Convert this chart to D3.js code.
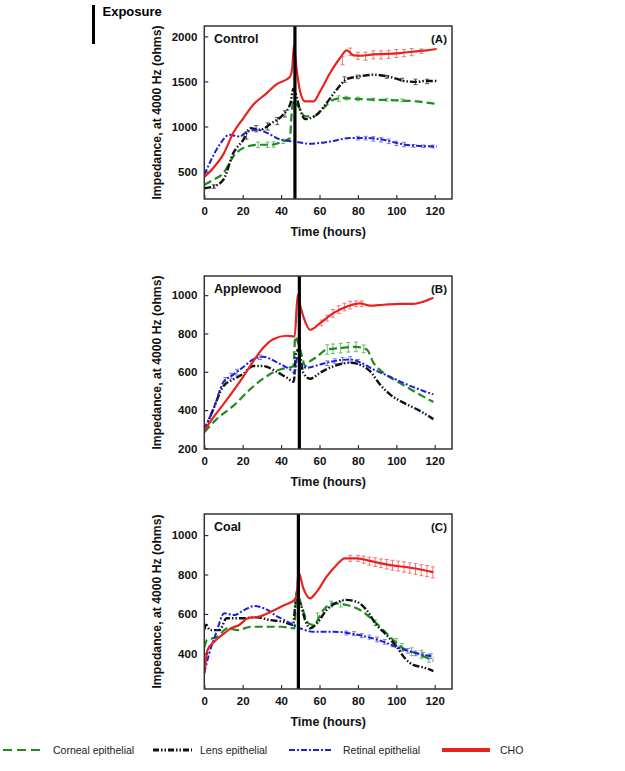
<!DOCTYPE html>
<html>
<head>
<meta charset="utf-8">
<script src="https://cdn.jsdelivr.net/npm/d3@7"></script>
<style>
html,body{margin:0;padding:0;background:#fff;}
svg{display:block;font-family:"Liberation Sans",Arial,sans-serif;}
</style>
</head>
<body>
<svg id="chart" width="625" height="771"></svg>
<script>
// ---------- DATA ----------
const seriesNames = ["Corneal epithelial", "Lens epithelial", "Retinal epithelial", "CHO"];
const xTicks = [0, 20, 40, 60, 80, 100, 120];
const yTicksA = [500, 1000, 1500, 2000];
const yTicksB = [200, 400, 600, 800, 1000];
const yTicksC = [400, 600, 800, 1000];
const panelTitles = ["Control", "Applewood", "Coal"];
const panelLetters = ["(A)", "(B)", "(C)"];
const exposureTimes = [47.2, 49.5, 49.0];

// Panel A (Control)
const tA_cho  = [0, 4.7, 9.9, 15.1, 20.3, 25.5, 32.5, 37.7, 44.6, 45.8, 46.7, 48.1, 49.9, 52.5, 56.8, 60.3, 65.5, 70.7, 74.2, 77.7, 82, 88.1, 95, 102, 110.6, 116, 121];
const vA_cho  = [440, 540, 690, 930, 1090, 1240, 1370, 1470, 1550, 1650, 1900, 1630, 1389, 1278, 1278, 1389, 1593, 1760, 1845, 1789, 1785, 1800, 1805, 1815, 1834, 1845, 1860];
const tA_lens = [0, 4.7, 9.9, 15.1, 20.3, 23.8, 29, 35, 41, 44.9, 46.4, 49.9, 52.5, 58.5, 63.7, 68.9, 74.2, 81.1, 88.1, 96.7, 105.4, 110.6, 115, 121];
const vA_lens = [315, 333, 408, 704, 852, 982, 963, 1037, 1130, 1260, 1420, 1185, 1082, 1130, 1260, 1408, 1526, 1556, 1574, 1550, 1500, 1495, 1505, 1504];
const tA_corn = [0, 4.7, 9.9, 15.1, 20.3, 27.8, 34.7, 40.8, 44.6, 45.5, 46.4, 49, 52.5, 56.8, 62, 67.2, 72.4, 79.3, 89.7, 100, 110.6, 121];
const vA_corn = [352, 408, 482, 667, 760, 797, 797, 833, 871, 1149, 1278, 1222, 1111, 1111, 1204, 1297, 1315, 1306, 1297, 1290, 1278, 1249];
const tA_ret  = [0, 3.6, 7.9, 13.1, 18.3, 22.6, 27.8, 33, 40, 47, 55, 65.5, 75.9, 84.6, 93.3, 102, 110.6, 121];
const vA_ret  = [463, 630, 796, 907, 889, 944, 963, 926, 852, 833, 808, 833, 871, 871, 852, 808, 785, 778];

// Panel B (Applewood)
const tB_cho  = [0, 4.7, 9.9, 15.1, 20.3, 25.5, 30.7, 35.9, 42.8, 47.1, 48.6, 49.6, 51.6, 55.1, 60.3, 67.2, 74.2, 81.1, 86.3, 93.3, 102, 108.9, 114.1, 119.3];
const vB_cho  = [292, 362, 430, 500, 575, 655, 725, 770, 788, 785, 1000, 960, 888, 819, 854, 906, 940, 957, 945, 950, 955, 955, 966, 986];
const tB_lens = [0, 4.7, 9.9, 15.1, 20.3, 25.5, 30.7, 37.7, 42.8, 46.6, 47.8, 49, 51.6, 55.1, 60.3, 67.2, 75.9, 82.8, 86.3, 91.5, 96.7, 103.7, 112.3, 119.3];
const vB_lens = [292, 405, 525, 560, 590, 630, 630, 600, 570, 548, 700, 715, 595, 564, 595, 629, 647, 629, 603, 534, 482, 439, 396, 353];
const tB_corn = [0, 6.4, 15.1, 23.8, 32.5, 39.4, 46.4, 47.4, 48.6, 50.7, 52.5, 55.1, 58.6, 63.7, 70.7, 79.3, 84.6, 88.1, 93.3, 100.2, 108.9, 119.3];
const vB_corn = [284, 353, 422, 508, 577, 612, 629, 784, 758, 690, 629, 655, 678, 716, 724, 730, 716, 647, 595, 551, 500, 442];
const tB_ret  = [0, 4.7, 9.9, 15.1, 20.3, 25.5, 30.7, 37.7, 44.6, 47.1, 48.4, 50, 53.3, 60.3, 67.2, 75.9, 81.1, 88.1, 96.7, 105.4, 114.1, 119.3];
const vB_ret  = [301, 405, 545, 585, 625, 665, 678, 650, 612, 595, 680, 640, 621, 638, 655, 664, 650, 612, 574, 534, 500, 482];

// Panel C (Coal)
const tC_cho  = [0, 1.7, 5.2, 10.4, 13.9, 18.2, 22.6, 28.6, 34.7, 41.7, 46.9, 48.2, 49, 51.6, 55.1, 58.6, 63.7, 68.9, 73.2, 79.3, 88, 96.7, 105.4, 114.1, 119.3];
const vC_cho  = [298, 417, 459, 501, 527, 544, 578, 586, 611, 645, 670, 700, 814, 730, 679, 713, 789, 848, 882, 882, 865, 848, 837, 823, 811];
const tC_lens = [0, 1, 3, 8, 11.6, 20.3, 27.2, 34, 41, 46.2, 47.8, 49.9, 52.5, 55.1, 58.6, 63.7, 68.9, 74, 79.3, 84.5, 89.7, 94.9, 100.1, 104.5, 108.8, 114, 119.3];
const vC_lens = [520, 545, 518, 518, 578, 578, 583, 569, 560, 544, 670, 655, 569, 527, 552, 620, 657, 671, 662, 620, 544, 493, 434, 375, 341, 329, 310];
const tC_corn = [0, 1.5, 6.9, 12.1, 17.4, 24.3, 33, 40, 46.9, 48, 50.7, 54.2, 56.8, 62, 67.2, 74.2, 81.1, 89.7, 96.7, 103.7, 110.6, 119.3];
const vC_corn = [430, 468, 484, 527, 518, 535, 535, 535, 527, 713, 640, 552, 544, 620, 654, 645, 620, 552, 484, 425, 400, 362];
const tC_ret  = [0, 2.6, 6.1, 10.4, 15.6, 20.8, 26, 31.2, 38.2, 45.1, 49.9, 56.8, 67.2, 75.9, 84.6, 93.3, 102, 110.6, 119.3];
const vC_ret  = [300, 400, 501, 603, 594, 620, 640, 628, 586, 552, 527, 510, 510, 501, 484, 459, 425, 400, 383];

// Error bars: [time, mean, half-width]
const errA_cho  = [[72,1730,45],[76,1830,40],[80,1785,40],[84,1780,45],[88,1795,45],[92,1795,45],[96,1800,45],[100,1810,45],[104,1815,40],[108,1825,40],[113,1835,25]];
const errA_lens = [[5,333,20],[22,900,40],[27,975,35],[33,1000,40],[38,1060,40],[42,1140,35],[73,1520,30],[80,1550,20],[95,1550,15],[103,1520,15],[110,1495,30],[116,1500,25]];
const errA_corn = [[28,797,30],[33,797,30],[36,800,30],[41,835,25],[70,1310,30],[74,1315,20],[80,1306,20],[88,1300,15],[95,1297,15],[103,1290,15]];
const errA_ret  = [[80,871,20],[84,871,20],[88,862,25],[92,852,25],[96,835,25],[100,812,25],[104,800,25],[109,785,15],[114,780,15],[119,778,15]];
const errB_cho  = [[61,855,15],[64,880,15],[67,905,20],[70,925,20],[73,938,20],[76,948,20],[79,955,15],[82,955,15]];
const errB_corn = [[64,716,25],[67,720,25],[71,724,25],[75,728,25],[79,730,25],[83,720,20]];
const errB_ret  = [[11,555,15],[14,578,15],[17,598,15],[29,676,12],[64,645,12],[68,656,12],[72,660,15],[76,664,15],[80,652,12]];
const errC_cho  = [[76,882,15],[80,882,15],[83,875,18],[86,868,20],[89,863,22],[92,857,22],[95,852,24],[98,847,25],[101,843,25],[104,838,26],[107,833,26],[110,828,27],[113,822,28],[116,817,28],[119,811,28]];
const errC_corn = [[59,580,25],[66,650,15],[71,650,15],[89,555,15],[100,455,20],[103,430,20],[108,408,20],[113,395,20],[117,375,20]];
const errC_ret  = [[74,503,10],[78,500,10],[82,490,10],[86,482,10],[90,470,12],[94,458,12],[98,445,12],[102,425,12],[106,412,12],[110,400,12],[114,393,12],[118,385,12]];

// ---------- STYLE ----------
const styles = [
  {color: "#1e8c1e", errColor: "#5cb85c", dash: "8,4", width: 2.2},        // Corneal
  {color: "#111111", errColor: "#444444", dash: "7,2,1.5,2,1.5,2", width: 2.4}, // Lens
  {color: "#1f1fd6", errColor: "#6a6af0", dash: "6,2,2,2", width: 2},      // Retinal
  {color: "#e8231f", errColor: "#f06a66", dash: null, width: 2.2}          // CHO
];

const panels = [
  {top: 26, bottom: 199, ydom: [195, 2115], yticks: yTicksA,
   series: [[tA_corn, vA_corn], [tA_lens, vA_lens], [tA_ret, vA_ret], [tA_cho, vA_cho]],
   errs: [errA_corn, errA_lens, errA_ret, errA_cho]},
  {top: 276, bottom: 449, ydom: [197, 1100], yticks: yTicksB,
   series: [[tB_corn, vB_corn], [tB_lens, vB_lens], [tB_ret, vB_ret], [tB_cho, vB_cho]],
   errs: [errB_corn, [], errB_ret, errB_cho]},
  {top: 514, bottom: 689, ydom: [219, 1107], yticks: yTicksC,
   series: [[tC_corn, vC_corn], [tC_lens, vC_lens], [tC_ret, vC_ret], [tC_cho, vC_cho]],
   errs: [errC_corn, [], errC_ret, errC_cho]}
];

const svg = d3.select("#chart");
const left = 204.3, right = 452;
const x = d3.scaleLinear().domain([0, 129]).range([left, right]);

// Exposure legend marker
svg.append("rect").attr("x", 92).attr("y", 5).attr("width", 3).attr("height", 39).attr("fill", "#000");
svg.append("text").attr("x", 102.5).attr("y", 16).attr("font-size", 13).attr("font-weight", "bold").text("Exposure");

panels.forEach((p, i) => {
  const y = d3.scaleLinear().domain(p.ydom).range([p.bottom, p.top]);
  const g = svg.append("g");
  const clipId = "clip" + i;
  g.append("clipPath").attr("id", clipId).append("rect")
    .attr("x", left).attr("y", p.top).attr("width", right - left).attr("height", p.bottom - p.top);

  const plot = g.append("g").attr("clip-path", `url(#${clipId})`);
  // error bars
  p.errs.forEach((errs, si) => {
    const st = styles[si];
    errs.forEach(([t, v, e]) => {
      const eg = plot.append("g").attr("stroke", st.errColor).attr("stroke-width", 0.9).attr("fill", "none");
      eg.append("line").attr("x1", x(t)).attr("x2", x(t)).attr("y1", y(v - e)).attr("y2", y(v + e));
      eg.append("line").attr("x1", x(t) - 2).attr("x2", x(t) + 2).attr("y1", y(v - e)).attr("y2", y(v - e));
      eg.append("line").attr("x1", x(t) - 2).attr("x2", x(t) + 2).attr("y1", y(v + e)).attr("y2", y(v + e));
    });
  });
  // lines
  const line = d3.line().x(d => x(d[0])).y(d => y(d[1])).curve(d3.curveMonotoneX);
  p.series.forEach(([ts, vs], si) => {
    const st = styles[si];
    const pts = ts.map((t, k) => [t, vs[k]]);
    plot.append("path").datum(pts).attr("d", line)
      .attr("fill", "none").attr("stroke", st.color).attr("stroke-width", st.width)
      .attr("stroke-dasharray", st.dash).attr("stroke-linejoin", "round");
  });
  // exposure line
  g.append("line").attr("x1", x(exposureTimes[i])).attr("x2", x(exposureTimes[i]))
    .attr("y1", p.top).attr("y2", p.bottom).attr("stroke", "#000").attr("stroke-width", 3.2);

  // axes
  const xAxis = d3.axisBottom(x).tickValues(xTicks).tickFormat(d3.format("d"))
    .tickSizeInner(-4).tickSizeOuter(0).tickPadding(8);
  const gx = g.append("g").attr("transform", `translate(0,${p.bottom})`).call(xAxis);
  const yAxis = d3.axisLeft(y).tickValues(p.yticks).tickFormat(d3.format("d"))
    .tickSizeInner(-4).tickSizeOuter(0).tickPadding(7);
  const gy = g.append("g").attr("transform", `translate(${left},0)`).call(yAxis);
  [gx, gy].forEach(a => {
    a.select(".domain").remove();
    a.selectAll(".tick line").attr("stroke", "#333").attr("stroke-width", 1.2);
    a.selectAll(".tick text").attr("font-size", 11.5).attr("font-weight", "bold")
      .attr("fill", "#111").attr("font-family", "Liberation Sans, Arial, sans-serif");
  });
  // frame
  g.append("rect").attr("x", left).attr("y", p.top).attr("width", right - left).attr("height", p.bottom - p.top)
    .attr("fill", "none").attr("stroke", "#333").attr("stroke-width", 1.5);

  // labels
  g.append("text").attr("x", 214).attr("y", p.top + 17).attr("font-size", 12.5).attr("font-weight", "bold")
    .attr("fill", "#111").text(panelTitles[i]);
  g.append("text").attr("x", 447).attr("y", p.top + 17).attr("font-size", 11.5).attr("font-weight", "bold")
    .attr("text-anchor", "end").attr("fill", "#111").text(panelLetters[i]);
  g.append("text").attr("x", (left + right) / 2).attr("y", p.bottom + 37).attr("font-size", 12.5)
    .attr("font-weight", "bold").attr("text-anchor", "middle").attr("fill", "#111").text("Time (hours)");
  g.append("text").attr("transform", `translate(161,${(p.top + p.bottom) / 2}) rotate(-90)`)
    .attr("font-size", 12.2).attr("font-weight", "bold").attr("text-anchor", "middle").attr("fill", "#111")
    .text("Impedance, at 4000 Hz (ohms)");
});

// Legend
const legendItems = [
  {x1: 3, x2: 45, tx: 53},
  {x1: 153, x2: 192, tx: 200},
  {x1: 289, x2: 332, tx: 343},
  {x1: 442, x2: 490, tx: 500}
];
const legendDash = ["9,5", "6,2,1.5,2,1.5,2", "6,2,2,2", null];
const legendWidth = [2.2, 3, 2, 4];
legendItems.forEach((it, k) => {
  svg.append("line").attr("x1", it.x1).attr("x2", it.x2).attr("y1", 750).attr("y2", 750)
    .attr("stroke", styles[k].color).attr("stroke-width", legendWidth[k]).attr("stroke-dasharray", legendDash[k]);
  svg.append("text").attr("x", it.tx).attr("y", 754).attr("font-size", 10.5).attr("fill", "#222")
    .text(seriesNames[k]);
});
</script>
</body>
</html>
